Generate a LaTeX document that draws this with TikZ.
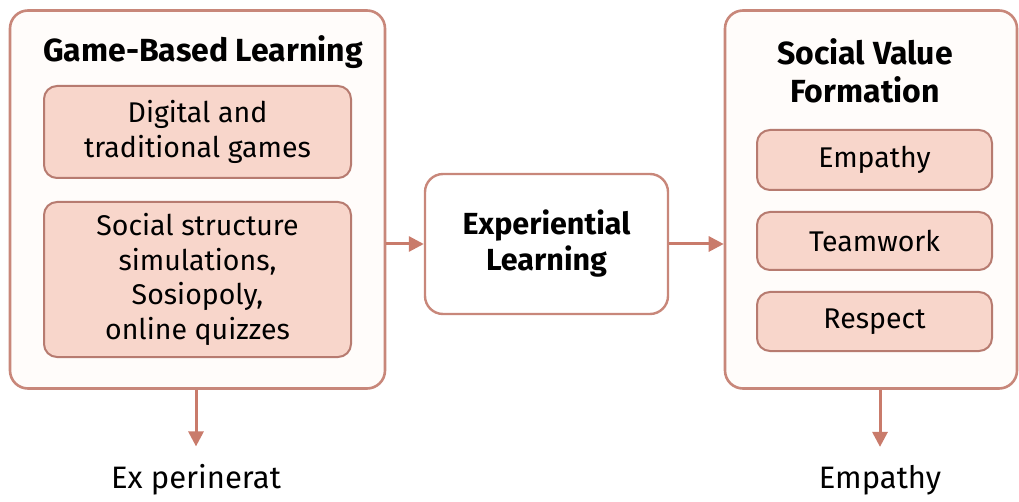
\documentclass[tikz,border=0pt]{standalone}
\usepackage{fontspec}
\setmainfont{Fira Sans}
\usepackage{tikz}
\usetikzlibrary{arrows.meta, positioning}
\definecolor{frameline}{HTML}{C8877A}
\definecolor{framefill}{HTML}{FFFCFA}
\definecolor{itemline}{HTML}{B77B70}
\definecolor{itemfill}{HTML}{F8D6CB}
\definecolor{arrowline}{HTML}{C97B6B}
\tikzset{
    framebox/.style={
        rectangle,
        rounded corners=18pt,
        draw=frameline,
        fill=framefill,
        line width=2.6pt,
        inner sep=0pt
    },
    itembox/.style={
        rectangle,
        rounded corners=13pt,
        draw=itemline,
        fill=itemfill,
        line width=2pt,
        align=center,
        inner sep=0pt,
        font=\fontsize{28.5}{34.5}\selectfont
    },
    midbox/.style={
        rectangle,
        rounded corners=18pt,
        draw=frameline,
        fill=white,
        line width=2.4pt,
        minimum width=243pt,
        minimum height=140pt,
        align=center,
        font=\fontsize{30.5}{36}\selectfont\bfseries
    },
    titlelabel/.style={
        align=center,
        inner sep=0pt,
        font=\fontsize{32}{38}\selectfont\bfseries
    },
    outlabel/.style={
        inner sep=0pt,
        font=\fontsize{31}{34}\selectfont
    },
    flowarrow/.style={
        -{Triangle[length=15pt, width=15pt]},
        line width=3pt,
        draw=arrowline
    }
}

\begin{document}
\begin{tikzpicture}[x=1pt, y=-1pt, node distance=20pt]
    \useasboundingbox (0,0) rectangle (1019,502);

    % left column
    \node[framebox, minimum width=375pt, minimum height=378pt] (gbl) at (197.5,199.5) {};
    \node[titlelabel] (gbltitle) at (203,52) {Game-Based Learning};
    \node[itembox, minimum width=307pt, minimum height=92pt] (games) at (197.5,132) {Digital and\\traditional games};
    \node[itembox, minimum width=307pt, minimum height=155pt, below=22pt of games] (sims) {Social structure\\simulations,\\Sosiopoly,\\online quizzes};

    % middle
    \node[midbox] (exp) at (546.5,244) {Experiential\\Learning};

    % right column
    \node[framebox, minimum width=292pt, minimum height=378pt] (svf) at (871,199.5) {};
    \node[titlelabel] (svftitle) at (865,71) {Social Value\\Formation};
    \node[itembox, minimum width=235pt, minimum height=60pt] (empathy) at (874.5,160) {Empathy};
    \node[itembox, minimum width=235pt, minimum height=58pt, below=20pt of empathy] (teamwork) {Teamwork};
    \node[itembox, minimum width=235pt, minimum height=59pt, below=20pt of teamwork] (respect) {Respect};

    % outcomes
    \node[outlabel] (gblout) at (196,480) {Ex perinerat};
    \node[outlabel] (svfout) at (880,480) {Empathy};

    \draw[flowarrow] (gbl.east |- exp) -- (exp.west);
    \draw[flowarrow] (exp.east) -- (svf.west |- exp);
    \draw[flowarrow, shorten >=18pt] (gblout |- gbl.south) -- (gblout.north);
    \draw[flowarrow, shorten >=18pt] (svfout |- svf.south) -- (svfout.north);
\end{tikzpicture}
\end{document}
